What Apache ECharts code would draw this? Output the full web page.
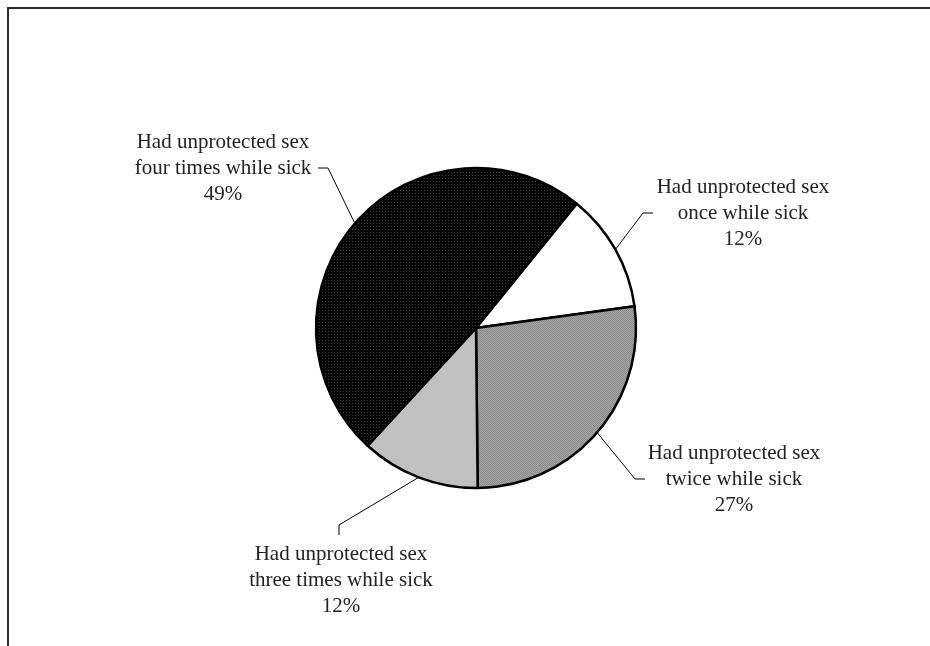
<!DOCTYPE html>
<html>
<head>
<meta charset="utf-8">
<title>Unprotected sex while sick</title>
<script src="https://cdn.jsdelivr.net/npm/echarts@6/dist/echarts.min.js"></script>
<style>
  html, body { margin: 0; padding: 0; background: #fff; }
  #chart { width: 930px; height: 646px; }
</style>
</head>
<body>
<div id="chart"></div>
<script>
// 数据
var categories = [
    'Had unprotected sex\nonce while sick',
    'Had unprotected sex\ntwice while sick',
    'Had unprotected sex\nthree times while sick',
    'Had unprotected sex\nfour times while sick'
];
var shares = [12, 27, 12, 49];

// 小图案填充
function makePattern(size, bg, dot, dots) {
    var c = document.createElement('canvas');
    c.width = size;
    c.height = size;
    var ctx = c.getContext('2d');
    ctx.fillStyle = bg;
    ctx.fillRect(0, 0, size, size);
    ctx.fillStyle = dot;
    for (var i = 0; i < dots.length; i++) {
        ctx.fillRect(dots[i][0], dots[i][1], 1, 1);
    }
    return { image: c, repeat: 'repeat' };
}

var fills = [
    '#ffffff',
    makePattern(2, '#a6a6a6', '#8a8a8a', [[0, 0], [1, 1]]),
    '#c0c0c0',
    makePattern(3, '#050505', '#3a3a3a', [[1, 1]])
];

// label position: text centre, elbow, end of the short tick
var labelPos = [
    { x: 743, y: 213, elbow: [643, 213], end: [653, 213] },
    { x: 734, y: 479, elbow: [635, 479], end: [645, 479] },
    { x: 341, y: 580, elbow: [339, 525], end: [339, 535] },
    { x: 223, y: 168, elbow: [328, 168], end: [318, 168] }
];

var myChart = echarts.init(document.getElementById('chart'));

var pieData = [];
for (var i = 0; i < shares.length; i++) {
    pieData.push({
        name: categories[i],
        value: shares[i],
        itemStyle: { color: fills[i] }
    });
}

myChart.setOption({
    animation: false,
    graphic: [{
        type: 'rect',
        shape: { x: 8, y: 8, width: 1000, height: 1000 },
        style: { fill: 'none', stroke: '#2b2b2b', lineWidth: 2 },
        silent: true
    }],
    series: [{
        type: 'pie',
        center: [476, 328],
        radius: 160,
        startAngle: 51,
        clockwise: true,
        data: pieData,
        itemStyle: {
            borderColor: '#000',
            borderWidth: 2.5
        },
        label: {
            show: true,
            formatter: function (p) {
                return p.name + '\n' + p.value + '%';
            },
            fontFamily: 'Liberation Serif',
            fontSize: 21,
            lineHeight: 26,
            color: '#222',
            align: 'center'
        },
        labelLine: {
            show: true,
            lineStyle: { color: '#000', width: 1 }
        },
        labelLayout: function (params) {
            var pos = labelPos[params.dataIndex];
            var start = params.labelLinePoints ? params.labelLinePoints[0] : pos.elbow;
            return {
                x: pos.x,
                y: pos.y,
                align: 'center',
                verticalAlign: 'middle',
                labelLinePoints: [start, pos.elbow, pos.end]
            };
        },
        emphasis: { disabled: true }
    }]
});
</script>
</body>
</html>
